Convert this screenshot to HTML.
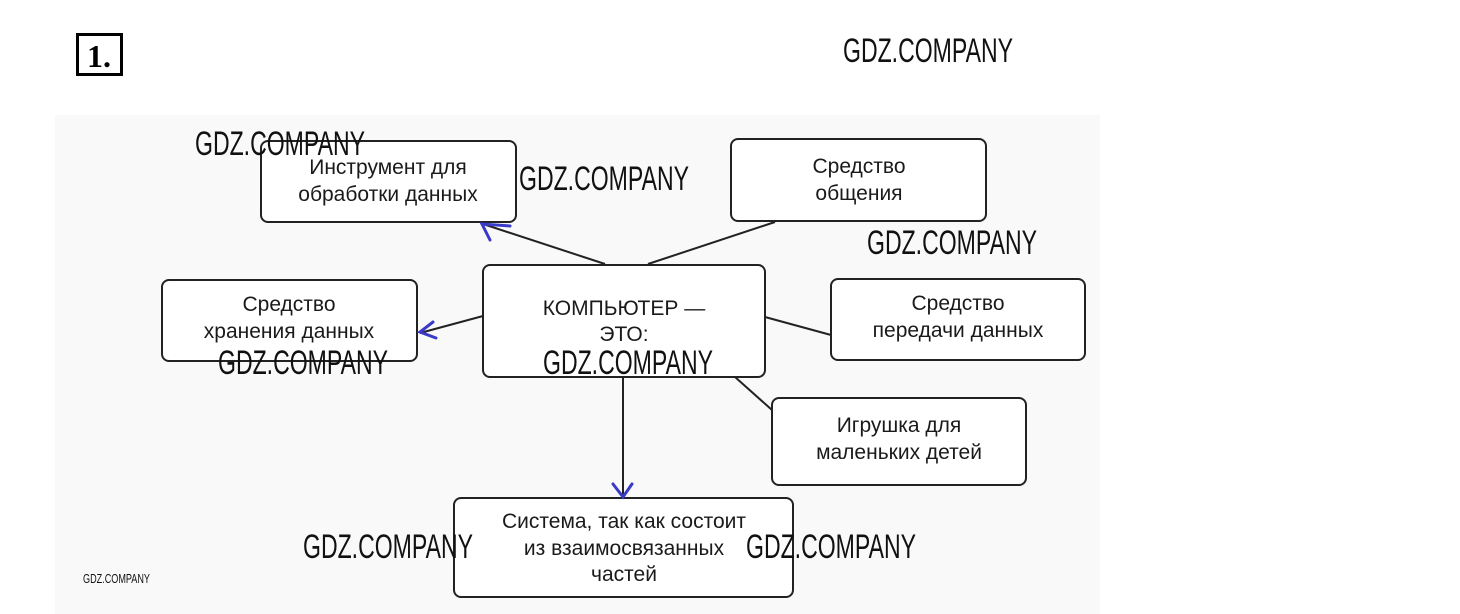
<!DOCTYPE html>
<html><head><meta charset="utf-8"><style>
html,body{margin:0;padding:0;background:#fff;}
svg{display:block}
.t{font-family:"Liberation Sans",sans-serif;font-size:21px;fill:#1a1a1a;text-anchor:middle}
.w{font-family:"Liberation Sans Narrow","Liberation Sans",sans-serif;font-size:34px;fill:#111;font-weight:normal}
</style></head><body>
<svg width="1460" height="614" viewBox="0 0 1460 614" xmlns="http://www.w3.org/2000/svg">
<rect x="55" y="115" width="1045" height="499" fill="#f9f9f9"/>
<rect x="77.5" y="34.5" width="44" height="40" fill="#fff" stroke="#000" stroke-width="3"/>
<text x="99" y="67" font-family="Liberation Serif,serif" font-size="32" font-weight="bold" text-anchor="middle">1.</text>
<g stroke="#222" stroke-width="2" fill="none">
<line x1="605" y1="264" x2="483" y2="224"/>
<line x1="648" y1="264" x2="775" y2="222"/>
<line x1="483" y1="316" x2="420" y2="333"/>
<line x1="765" y1="317" x2="831" y2="335"/>
<line x1="735" y1="377" x2="772" y2="410"/>
<line x1="623" y1="377" x2="623" y2="497"/>
</g>
<g fill="#fff" stroke="#222" stroke-width="2">
<rect x="261" y="141" width="255" height="81" rx="7"/>
<rect x="731" y="139" width="255" height="82" rx="7"/>
<rect x="162" y="280" width="255" height="81" rx="7"/>
<rect x="483" y="265" width="282" height="112" rx="7"/>
<rect x="831" y="279" width="254" height="81" rx="7"/>
<rect x="772" y="398" width="254" height="87" rx="7"/>
<rect x="454" y="498" width="339" height="99" rx="7"/>
</g>
<text class="t" x="388" y="174">Инструмент для</text>
<text class="t" x="388" y="201">обработки данных</text>
<text class="t" x="859" y="173">Средство</text>
<text class="t" x="859" y="200">общения</text>
<text class="t" x="289" y="311">Средство</text>
<text class="t" x="289" y="338">хранения данных</text>
<text class="t" x="624" y="315">КОМПЬЮТЕР —</text>
<text class="t" x="624" y="341">ЭТО:</text>
<text class="t" x="958" y="310">Средство</text>
<text class="t" x="958" y="337">передачи данных</text>
<text class="t" x="899" y="432">Игрушка для</text>
<text class="t" x="899" y="459">маленьких детей</text>
<text class="t" x="624" y="528">Система, так как состоит</text>
<text class="t" x="624" y="555">из взаимосвязанных</text>
<text class="t" x="624" y="581">частей</text>
<g stroke="#3a3ac8" stroke-width="3" fill="none" stroke-linecap="round">
<polyline points="510,226 482,224 490,240"/>
<polyline points="433,322 420,332 436,338"/>
<polyline points="613,484 623,497 632,484"/>
</g>
<g class="w">
<text x="843" y="62" textLength="170" lengthAdjust="spacingAndGlyphs">GDZ.COMPANY</text>
<text x="195" y="155" textLength="170" lengthAdjust="spacingAndGlyphs">GDZ.COMPANY</text>
<text x="519" y="190" textLength="170" lengthAdjust="spacingAndGlyphs">GDZ.COMPANY</text>
<text x="867" y="254" textLength="170" lengthAdjust="spacingAndGlyphs">GDZ.COMPANY</text>
<text x="218" y="374" textLength="170" lengthAdjust="spacingAndGlyphs">GDZ.COMPANY</text>
<text x="543" y="374" textLength="170" lengthAdjust="spacingAndGlyphs">GDZ.COMPANY</text>
<text x="303" y="558" textLength="170" lengthAdjust="spacingAndGlyphs">GDZ.COMPANY</text>
<text x="746" y="558" textLength="170" lengthAdjust="spacingAndGlyphs">GDZ.COMPANY</text>
<text x="83" y="583" font-size="13" textLength="67" lengthAdjust="spacingAndGlyphs">GDZ.COMPANY</text>
</g>
</svg>
</body></html>
